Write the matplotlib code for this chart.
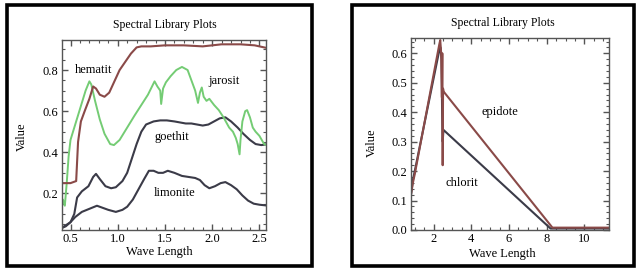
import matplotlib
matplotlib.use("Agg")
import matplotlib.pyplot as plt
from matplotlib.patches import Rectangle
from matplotlib.ticker import MultipleLocator

plt.rcParams['font.family'] = ['Liberation Serif', 'DejaVu Serif']

# ---------- left panel data ----------
hem_x = [0.40, 0.45, 0.50, 0.56, 0.58, 0.61, 0.65, 0.70, 0.74, 0.77, 0.81, 0.86, 0.91, 0.96, 1.02, 1.08, 1.14, 1.20, 1.25, 1.35, 1.50, 1.70, 1.90, 2.10, 2.30, 2.45, 2.60]
hem_y = [0.25, 0.25, 0.25, 0.26, 0.45, 0.55, 0.60, 0.66, 0.72, 0.71, 0.68, 0.67, 0.69, 0.74, 0.80, 0.84, 0.88, 0.91, 0.915, 0.915, 0.92, 0.92, 0.915, 0.925, 0.925, 0.92, 0.905]

jar_x = [0.40, 0.42, 0.44, 0.46, 0.48, 0.50, 0.54, 0.58, 0.62, 0.66, 0.70, 0.72, 0.76, 0.81, 0.86, 0.92, 0.96, 1.02, 1.10, 1.18, 1.25, 1.32, 1.39, 1.42, 1.45, 1.46, 1.48, 1.51, 1.56, 1.62, 1.68, 1.74, 1.78, 1.82, 1.85, 1.87, 1.89, 1.91, 1.94, 1.97, 2.02, 2.07, 2.12, 2.18, 2.22, 2.25, 2.27, 2.29, 2.30, 2.32, 2.35, 2.37, 2.40, 2.43, 2.46, 2.50, 2.55, 2.60]
jar_y = [0.10, 0.17, 0.14, 0.25, 0.38, 0.46, 0.52, 0.58, 0.64, 0.70, 0.745, 0.73, 0.65, 0.56, 0.49, 0.44, 0.435, 0.46, 0.52, 0.58, 0.63, 0.68, 0.745, 0.72, 0.70, 0.635, 0.71, 0.74, 0.77, 0.80, 0.815, 0.80, 0.75, 0.70, 0.64, 0.69, 0.715, 0.67, 0.65, 0.66, 0.63, 0.605, 0.57, 0.52, 0.50, 0.47, 0.44, 0.39, 0.46, 0.55, 0.60, 0.605, 0.57, 0.52, 0.50, 0.48, 0.44, 0.43]

goe_x = [0.40, 0.45, 0.50, 0.54, 0.57, 0.62, 0.69, 0.74, 0.77, 0.81, 0.87, 0.93, 0.98, 1.05, 1.10, 1.15, 1.20, 1.25, 1.30, 1.38, 1.45, 1.52, 1.60, 1.66, 1.72, 1.78, 1.84, 1.90, 1.96, 2.02, 2.08, 2.14, 2.20, 2.27, 2.33, 2.40, 2.46, 2.52, 2.60]
goe_y = [0.03, 0.04, 0.06, 0.10, 0.18, 0.21, 0.235, 0.28, 0.295, 0.27, 0.235, 0.225, 0.23, 0.26, 0.30, 0.37, 0.44, 0.50, 0.535, 0.55, 0.555, 0.555, 0.55, 0.545, 0.54, 0.54, 0.535, 0.53, 0.535, 0.55, 0.565, 0.57, 0.55, 0.52, 0.49, 0.46, 0.44, 0.435, 0.44]

lim_x = [0.40, 0.45, 0.50, 0.55, 0.62, 0.70, 0.78, 0.84, 0.90, 0.98, 1.05, 1.10, 1.16, 1.22, 1.28, 1.33, 1.38, 1.43, 1.48, 1.53, 1.60, 1.68, 1.75, 1.82, 1.87, 1.92, 1.97, 2.03, 2.09, 2.14, 2.20, 2.26, 2.32, 2.38, 2.44, 2.50, 2.60]
lim_y = [0.03, 0.045, 0.06, 0.085, 0.11, 0.125, 0.14, 0.13, 0.12, 0.11, 0.12, 0.135, 0.17, 0.22, 0.27, 0.31, 0.31, 0.30, 0.30, 0.31, 0.30, 0.285, 0.28, 0.275, 0.265, 0.24, 0.225, 0.235, 0.25, 0.255, 0.24, 0.22, 0.19, 0.165, 0.15, 0.145, 0.14]

left_yticks = [0.2, 0.4, 0.6, 0.8]
left_xticks = [0.5, 1.0, 1.5, 2.0, 2.5]

# ---------- right panel data ----------
chl_x = [0.8, 0.9, 1.0, 2.30, 2.36, 2.42, 2.45, 2.48, 2.52, 8.2, 11.3]
chl_y = [0.12, 0.17, 0.20, 0.61, 0.62, 0.58, 0.40, 0.30, 0.34, 0.005, 0.005]

epi_x = [0.8, 0.9, 1.0, 2.30, 2.35, 2.40, 2.44, 2.46, 2.48, 2.50, 2.53, 8.3, 11.3]
epi_y = [0.12, 0.16, 0.19, 0.63, 0.645, 0.60, 0.45, 0.60, 0.22, 0.48, 0.47, 0.008, 0.008]

right_yticks = [0.0, 0.1, 0.2, 0.3, 0.4, 0.5, 0.6]
right_xticks = [2, 4, 6, 8, 10]

W, H = 640, 274
fig = plt.figure(figsize=(W / 100, H / 100), dpi=100)
fig.patch.set_facecolor('white')


def fx(px):
    return px / W


def fy(py):
    return 1 - py / H


# outer black frames
for (x0, y0, x1, y1) in [(7, 5, 312, 266), (352, 5, 634, 266)]:
    fig.patches.append(Rectangle((fx(x0), fy(y1)), fx(x1) - fx(x0), fy(y0) - fy(y1),
                                 transform=fig.transFigure, fill=False,
                                 edgecolor='black', linewidth=2.6, zorder=0))

DARK = '#3b3b48'
RED = '#8a4a48'
GREEN = '#74cc74'
FS = 9


def style(ax):
    for s in ax.spines.values():
        s.set_color('#555555')
        s.set_linewidth(1.0)
    ax.tick_params(which='both', direction='in', top=True, right=True,
                   colors='#555555', labelcolor='black', labelsize=FS)
    ax.tick_params(which='major', length=4, width=1)
    ax.tick_params(which='minor', length=2, width=0.8)
    ax.tick_params(axis='x', pad=2.5)
    ax.tick_params(axis='y', pad=3)


# ---------- left axes ----------
ax1 = fig.add_axes([fx(62), fy(230), fx(266) - fx(62), fy(40) - fy(230)])
ax1.plot(goe_x, goe_y, color=DARK, lw=1.5)
ax1.plot(lim_x, lim_y, color=DARK, lw=1.5)
ax1.plot(jar_x, jar_y, color=GREEN, lw=1.4)
ax1.plot(hem_x, hem_y, color=RED, lw=1.5)
ax1.set_xlim(0.41, 2.57)
ax1.set_ylim(0.022, 0.946)
ax1.set_xticks(left_xticks)
ax1.set_xticklabels([f"{v:.1f}" for v in left_xticks])
ax1.set_yticks(left_yticks)
ax1.set_yticklabels([f"{v:.1f}" for v in left_yticks])
ax1.xaxis.set_minor_locator(MultipleLocator(0.1))
ax1.yaxis.set_minor_locator(MultipleLocator(0.05))
style(ax1)
ax1.text(0.74, 0.80, 'hematit', fontsize=FS, ha='center', va='center')
ax1.text(2.13, 0.747, 'jarosit', fontsize=FS, ha='center', va='center')
ax1.text(1.57, 0.474, 'goethit', fontsize=FS, ha='center', va='center')
ax1.text(1.60, 0.202, 'limonite', fontsize=FS, ha='center', va='center')

fig.text(fx(165), fy(25), 'Spectral Library Plots', fontsize=8.5, ha='center', va='center')
fig.text(fx(159), fy(252), 'Wave Length', fontsize=FS, ha='center', va='center')
fig.text(fx(22), fy(137), 'Value', fontsize=FS, ha='center', va='center', rotation=90)

# ---------- right axes ----------
ax2 = fig.add_axes([fx(411), fy(230), fx(609) - fx(411), fy(38) - fy(230)])
ax2.plot(chl_x, chl_y, color=DARK, lw=1.5)
ax2.plot(epi_x, epi_y, color=RED, lw=1.5)
ax2.set_xlim(0.8, 11.3)
ax2.set_ylim(0, 0.652)
ax2.set_xticks(right_xticks)
ax2.set_xticklabels([str(v) for v in right_xticks])
ax2.set_yticks(right_yticks)
ax2.set_yticklabels([f"{v:.1f}" for v in right_yticks])
ax2.xaxis.set_minor_locator(MultipleLocator(0.5))
ax2.yaxis.set_minor_locator(MultipleLocator(0.02))
style(ax2)
ax2.text(5.52, 0.40, 'epidote', fontsize=FS, ha='center', va='center')
ax2.text(3.50, 0.16, 'chlorit', fontsize=FS, ha='center', va='center')

fig.text(fx(503), fy(23), 'Spectral Library Plots', fontsize=8.5, ha='center', va='center')
fig.text(fx(502), fy(254), 'Wave Length', fontsize=FS, ha='center', va='center')
fig.text(fx(372), fy(143), 'Value', fontsize=FS, ha='center', va='center', rotation=90)

fig.savefig('out.png', dpi=100, facecolor='white')
